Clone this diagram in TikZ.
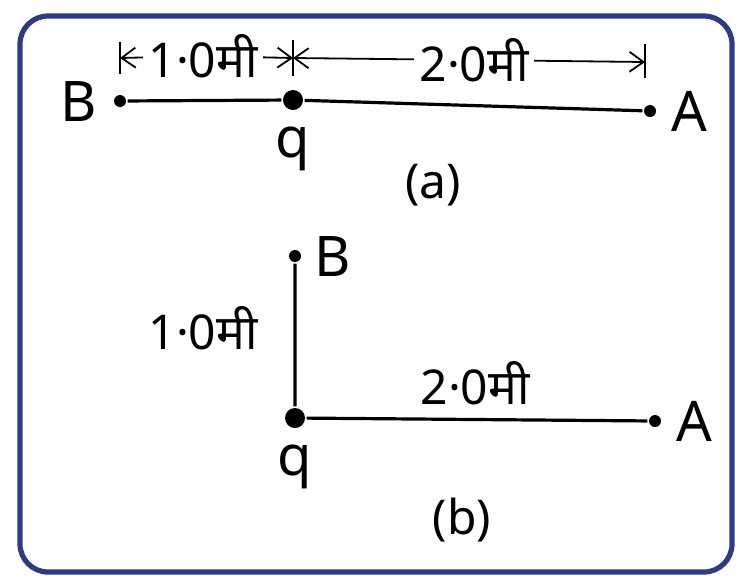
\documentclass[tikz,border=0pt]{standalone}
\usepackage{fontspec}
\setmainfont{Noto Sans}[Script=Devanagari]
\usetikzlibrary{arrows.meta,positioning}
\definecolor{frameblue}{RGB}{48,58,128}

\begin{document}
\begin{tikzpicture}[
    x=0.5pt, y=-0.5pt,
    line width=1.6pt,
    dot/.style={circle, fill, inner sep=0pt, minimum size=6pt},
    bigdot/.style={circle, fill, inner sep=0pt, minimum size=10pt},
    lbl/.style={font=\fontsize{28}{32}\selectfont, inner sep=1pt},
    dist/.style={font=\fontsize{24}{28}\selectfont, inner sep=2pt},
    dimarrow/.style={-{Straight Barb[length=7pt,width=10pt]}, line width=0.9pt},
    tickline/.style={line width=0.9pt}
  ]
    \useasboundingbox (0,0) rectangle (749,580);
    \draw[frameblue, line width=2.6pt, rounded corners=14pt] (20,16) rectangle (732,572);

    % (a)
    \node[dot] (Ba) at (120,101) {};
    \node[bigdot] (qa) at (293,100) {};
    \node[dot] (Aa) at (650,111) {};
    \node[lbl, left=6pt of Ba] (labBa) {B};
    \node[lbl, right=5pt of Aa] (labAa) {A};
    \node[lbl, below=6pt of qa] (labqa) {q};
    \node[font=\fontsize{24}{28}\selectfont] (capa) at (433,185) {(a)};
    \draw (Ba) -- (qa) -- (Aa);

    \coordinate (d1) at (120,58);
    \coordinate (d2) at (293,58);
    \coordinate (d3) at (645,62);
    \node[dist] (m1) at (203,56) {1·0मी};
    \node[dist] (m2) at (474,60) {2·0मी};
    \draw[dimarrow] (m1) -- (d1);
    \draw[dimarrow] (m1) -- (d2);
    \draw[dimarrow] (m2) -- (d2);
    \draw[dimarrow] (m2) -- (d3);
    \draw[tickline] ([yshift=-8pt]d1) -- ([yshift=8pt]d1);
    \draw[tickline] ([yshift=-9pt]d2) -- ([yshift=9pt]d2);
    \draw[tickline] ([yshift=-8pt]d3) -- ([yshift=9pt]d3);

    % (b)
    \node[dot] (Bb) at (295,256) {};
    \node[bigdot] (qb) at (295,418) {};
    \node[dot] (Ab) at (655,421) {};
    \node[lbl, right=4pt of Bb] (labBb) {B};
    \node[lbl, right=5pt of Ab] (labAb) {A};
    \node[lbl, below=6pt of qb] (labqb) {q};
    \draw (Bb) -- (qb) -- (Ab);
    \node[dist] (m3) at (203,328) {1·0मी};
    \node[dist] (m4) at (475,383) {2·0मी};
    \node[font=\fontsize{24}{28}\selectfont] (capb) at (462,520) {(b)};
\end{tikzpicture}
\end{document}
